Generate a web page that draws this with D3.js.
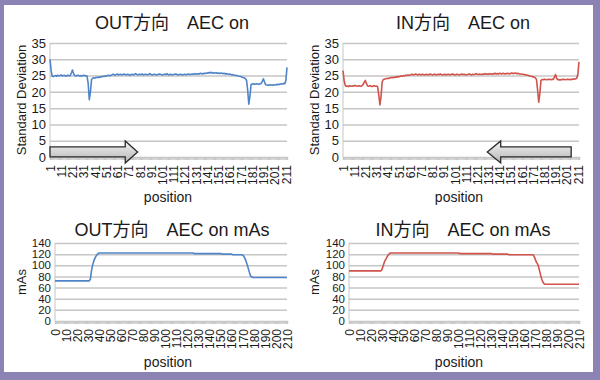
<!DOCTYPE html>
<html>
<head>
<meta charset="utf-8">
<script src="https://cdn.jsdelivr.net/npm/d3@7"></script>
<style>
  body { margin: 0; background: #fff; }
  svg text { font-family: "Liberation Sans", Arial, "Noto Sans CJK JP", sans-serif; fill: #1a1a1a; }
</style>
</head>
<body>
<svg id="chart" width="600" height="380"></svg>
<script>
// Standard deviation per position, OUT direction (positions 1..212)
const outSD = [30.0, 26.5, 24.8,
  24.7, 24.9, 25.0, 24.8, 25.1, 24.9, 25.0, 25.2, 24.9, 25.0, 25.1, 24.8, 25.0, 25.1, 24.9, 25.0,
  25.8, 26.7, 25.6,
  25.0, 24.9, 25.0, 25.1, 24.9, 25.0, 24.8, 25.0, 25.1, 24.9, 25.0, 24.8,
  22.5, 17.6, 20.0, 23.8, 24.2,
  24.3, 24.2, 24.4, 24.5, 24.4, 24.6, 24.5, 24.7, 24.8, 24.7, 24.9, 24.8, 25.0, 25.1, 24.9, 25.1,
  25.2, 25.4, 25.3, 25.1, 25.3, 25.5, 25.2, 25.3, 25.4, 25.2,
  25.3, 25.5, 25.3, 25.2, 25.4, 25.3, 25.1, 25.3, 25.4, 25.2,
  25.3, 25.6, 25.4, 25.2, 25.3, 25.4, 25.3, 25.5, 25.2, 25.3,
  25.4, 25.3, 25.2, 25.4, 25.6, 25.3, 25.2, 25.3, 25.4, 25.3,
  25.2, 25.3, 25.5, 25.4, 25.3, 25.2, 25.3, 25.4, 25.3, 25.6,
  25.3, 25.2, 25.4, 25.3, 25.2, 25.3, 25.4, 25.5, 25.3, 25.2,
  25.3, 25.4, 25.3, 25.2, 25.3, 25.4, 25.3, 25.3, 25.5, 25.4,
  25.3, 25.4, 25.5, 25.4, 25.6, 25.5, 25.4, 25.6, 25.5, 25.7,
  25.6, 25.5, 25.7, 25.6, 25.8,
  25.7, 25.9, 25.8, 26.0, 25.8, 25.9, 25.7, 25.8, 25.9, 25.7, 25.8, 25.6, 25.8, 25.7, 25.6, 25.7, 25.5, 25.6,
  25.5, 25.4, 25.5, 25.3, 25.2, 25.3, 25.1, 25.0, 25.1, 24.9, 24.8, 24.8,
  24.7, 24.5, 24.4, 24.3, 24.0, 23.5,
  20.5, 16.2, 18.5, 22.2,
  22.4, 22.5, 22.3, 22.4, 22.5, 22.4, 22.3, 22.5, 22.6,
  23.2, 24.0, 23.0,
  22.2, 22.1, 22.0, 22.1, 22.2, 22.1, 22.0, 22.2, 22.1, 22.2, 22.3, 22.2, 22.3,
  22.4, 22.5, 22.4, 22.6, 22.5,
  23.5, 27.5];

// Standard deviation per position, IN direction (positions 1..212)
const inSD = [26.5, 23.5, 22.0,
  21.7, 21.8, 21.6, 21.9, 21.8, 21.7, 21.9, 21.8, 22.0, 21.8, 21.7, 21.9, 21.8, 21.7, 21.9,
  22.3, 23.0, 23.5, 22.5,
  21.8, 21.7, 21.9, 21.8, 21.6, 21.8, 21.9, 21.7, 21.8,
  21.5, 19.0, 16.0, 18.5, 23.0, 23.8,
  23.9, 24.0, 24.1, 24.2, 24.1, 24.3, 24.4, 24.3, 24.5, 24.4, 24.6, 24.5, 24.7, 24.6, 24.8, 24.9,
  24.8, 25.0, 24.9, 25.1, 25.0, 25.2, 25.1,
  25.2, 25.3, 25.4, 25.2, 25.3, 25.5, 25.3, 25.2, 25.4, 25.3,
  25.2, 25.4, 25.3, 25.2, 25.3, 25.4, 25.2, 25.3, 25.5, 25.3,
  25.2, 25.3, 25.4, 25.3, 25.2, 25.4, 25.3, 25.5, 25.3, 25.2,
  25.3, 25.4, 25.2, 25.3, 25.4, 25.3, 25.2, 25.4, 25.5, 25.3,
  25.2, 25.3, 25.4, 25.3, 25.2, 25.3, 25.5, 25.3, 25.4, 25.3,
  25.2, 25.3, 25.4, 25.5, 25.3, 25.2, 25.4, 25.3, 25.4, 25.6,
  25.4, 25.3, 25.5, 25.4, 25.3, 25.5, 25.4, 25.6, 25.4, 25.5,
  25.4, 25.6, 25.5, 25.4, 25.6, 25.5, 25.7, 25.5, 25.6, 25.5,
  25.7, 25.6, 25.5, 25.7, 25.6, 25.5, 25.6, 25.7, 25.6, 25.5,
  25.7, 25.8, 25.6, 25.7, 25.8, 25.6, 25.7, 25.6,
  25.5, 25.5, 25.4, 25.4, 25.3, 25.2, 25.2, 25.1, 25.0, 24.9, 24.8, 24.7, 24.6, 24.5,
  24.3, 23.8, 20.5, 16.8, 19.5, 23.5,
  23.8, 23.7, 23.9, 23.8, 23.7, 23.8, 23.9, 23.8, 23.7, 23.9, 23.8,
  24.5, 25.3, 24.2,
  23.7, 23.8, 23.6, 23.8, 23.7, 23.9, 23.8, 23.7, 23.8, 23.9, 23.8, 23.7, 23.9, 23.8, 24.0, 23.9, 24.0,
  24.2, 25.5, 29.2];

// mAs per position, OUT direction (positions 0..210)
const outMAs = [72, 72, 72, 72, 72, 72, 72, 72, 72, 72, 72, 72, 72, 72, 72, 72,
  72, 72, 72, 72, 72, 72, 72, 72, 72, 72, 72, 72, 72, 72, 72, 72,
  75, 90, 100, 107, 112, 116, 119, 121,
  122, 122, 122, 122, 122, 122, 122, 122, 122, 122, 122, 122, 122, 122, 122, 122,
  122, 122, 122, 122, 122, 122, 122, 122, 122, 122, 122, 122, 122, 122, 122, 122,
  122, 122, 122, 122, 122, 122, 122, 122, 122, 122, 122, 122, 122, 122, 122, 122,
  122, 122, 122, 122, 122, 122, 122, 122, 122, 122, 122, 122, 122, 122, 122, 122,
  122, 122, 122, 122, 122, 122, 122, 122, 122, 122, 122, 122, 122, 122, 122, 122,
  122, 122, 122, 122, 122, 122,
  121, 121, 121, 121, 121, 121, 121, 121, 121, 121, 121, 121, 121,
  121, 121, 121, 121, 121, 121, 121, 121, 121, 121, 121, 121,
  120, 120, 120, 120, 120, 120, 120, 120, 120, 120,
  119, 119, 119, 119, 119, 119, 119, 119, 119,
  118, 116, 112, 107, 101, 94, 87, 81, 79,
  78, 78, 78, 78, 78, 78, 78, 78, 78, 78, 78, 78, 78, 78, 78, 78,
  78, 78, 78, 78, 78, 78, 78, 78, 78, 78, 78, 78, 78, 78, 78, 78];

// mAs per position, IN direction (positions 0..210)
const inMAs = [90, 90, 90, 90, 90, 90, 90, 90, 90, 90, 90, 90, 90, 90, 90,
  90, 90, 90, 90, 90, 90, 90, 90, 90, 90, 90, 90, 90, 90, 90,
  92, 98, 104, 109, 112, 116, 119, 121,
  122, 122, 122, 122, 122, 122, 122, 122, 122, 122, 122, 122, 122, 122, 122, 122,
  122, 122, 122, 122, 122, 122, 122, 122, 122, 122, 122, 122, 122, 122, 122, 122,
  122, 122, 122, 122, 122, 122, 122, 122, 122, 122, 122, 122, 122, 122, 122, 122,
  122, 122, 122, 122, 122, 122, 122, 122, 122, 122, 122, 122, 122, 122, 122,
  121, 121, 121, 121, 121, 121, 121, 121, 121, 121, 121, 121, 121, 121, 121,
  121, 121, 121, 121, 121, 121, 121, 121, 121, 121, 121, 121, 121, 121, 121,
  120, 120, 120, 120, 120, 120, 120, 120, 120, 120, 120, 120, 120, 120, 120,
  119, 119, 119, 119, 119, 119, 119, 119, 119, 119, 119, 119,
  119, 119, 119, 119, 119, 119, 119, 119, 119, 119, 119,
  116, 111, 106, 103, 98, 90, 82, 75, 70, 67,
  66, 66, 66, 66, 66, 66, 66, 66, 66, 66, 66, 66, 66, 66, 66, 66,
  66, 66, 66, 66, 66, 66, 66, 66, 66, 66, 66, 66, 66, 66, 66, 66];

// Category labels shown every 10 positions
const sdTickLabels = [1, 11, 21, 31, 41, 51, 61, 71, 81, 91, 101, 111, 121, 131, 141,
  151, 161, 171, 181, 191, 201, 211];
const masTickLabels = [0, 10, 20, 30, 40, 50, 60, 70, 80, 90, 100, 110, 120, 130, 140,
  150, 160, 170, 180, 190, 200, 210];
const sdYTicks = [0, 5, 10, 15, 20, 25, 30, 35];
const masYTicks = [0, 20, 40, 60, 80, 100, 120, 140];

const svg = d3.select("#chart");

// Purple frame with white panel
svg.append("rect").attr("width", 600).attr("height", 380).attr("fill", "#8b83b4");
svg.append("rect").attr("x", 4).attr("y", 5).attr("width", 589).attr("height", 367).attr("fill", "#fff");

const defs = svg.append("defs");
const grad = defs.append("linearGradient").attr("id", "arrowGrad")
  .attr("x1", 0).attr("y1", 0).attr("x2", 0).attr("y2", 1);
grad.append("stop").attr("offset", "0%").attr("stop-color", "#f4f4f4");
grad.append("stop").attr("offset", "100%").attr("stop-color", "#b4b4b4");

function drawChart(cfg) {
  const cats = cfg.values.map((d, i) => i + cfg.firstCat);
  const x = d3.scalePoint().domain(cats).range([cfg.left, cfg.right]);
  const y = d3.scaleLinear().domain([0, cfg.yMax]).range([cfg.bottom, cfg.top]);
  const g = svg.append("g");

  // Horizontal gridlines
  g.append("g")
    .attr("transform", `translate(${cfg.left},0)`)
    .call(d3.axisLeft(y).tickValues(cfg.yTicks.filter((t) => t > 0))
      .tickSize(-(cfg.right - cfg.left)).tickFormat(""))
    .call((a) => a.select(".domain").remove())
    .selectAll("line").attr("stroke", "#c6c6c6").attr("stroke-width", 1.5);

  // Y tick labels
  g.append("g")
    .attr("transform", `translate(${cfg.left - 4},0)`)
    .call(d3.axisLeft(y).tickValues(cfg.yTicks).tickSize(0).tickPadding(0))
    .call((a) => a.select(".domain").remove())
    .selectAll("text").style("font-size", cfg.yFont).style("fill", "#1a1a1a");

  // Vertical axis line
  g.append("line")
    .attr("x1", cfg.left).attr("x2", cfg.left)
    .attr("y1", y(cfg.yMax)).attr("y2", y(0))
    .attr("stroke", "#c6c6c6").attr("stroke-width", 1);

  // X axis with a tick for every category
  g.append("g")
    .attr("transform", `translate(0,${cfg.bottom})`)
    .call(d3.axisBottom(x).tickSize(3).tickFormat(""))
    .call((a) => a.select(".domain").attr("stroke", "#c6c6c6").attr("stroke-width", 1.5))
    .selectAll("line").attr("stroke", "#c6c6c6");

  // X tick labels, rotated
  g.append("g")
    .attr("transform", `translate(0,${cfg.bottom + 8})`)
    .call(d3.axisBottom(x).tickValues(cfg.tickLabels).tickSize(0).tickPadding(0))
    .call((a) => a.select(".domain").remove())
    .selectAll("text")
    .style("font-size", "12px").style("fill", "#1a1a1a")
    .attr("text-anchor", "end")
    .attr("dy", "0.35em")
    .attr("transform", "rotate(-90)")
    .attr("x", 0).attr("y", 0);

  // Data line
  g.append("path")
    .datum(cfg.values)
    .attr("fill", "none")
    .attr("stroke", cfg.color)
    .attr("stroke-width", 1.6)
    .attr("stroke-linejoin", "round")
    .attr("d", d3.line().x((d, i) => x(cats[i])).y((d) => y(d)));

  // Title
  g.append("text")
    .attr("x", cfg.titleX).attr("y", cfg.titleY)
    .attr("text-anchor", "middle")
    .style("font-size", "18px")
    .text(cfg.title);

  // Axis titles
  g.append("text")
    .attr("transform", `translate(${cfg.yLabelX},${(cfg.top + cfg.bottom) / 2}) rotate(-90)`)
    .attr("text-anchor", "middle")
    .style("font-size", "13px")
    .text(cfg.yLabel);

  g.append("text")
    .attr("x", cfg.titleX - 4).attr("y", cfg.xLabelY)
    .attr("text-anchor", "middle")
    .style("font-size", "14px")
    .text("position");

  // Direction arrow (block arrow annotation)
  if (cfg.arrow) {
    const a = cfg.arrow;
    const x0 = x(a.from), x1 = x(a.to), xh = x(a.head);
    const yc = y(a.mid), bh = a.body / 2, hh = a.headH / 2;
    const pts = [[x0, yc - bh], [xh, yc - bh], [xh, yc - hh], [x1, yc],
      [xh, yc + hh], [xh, yc + bh], [x0, yc + bh]];
    g.append("path")
      .attr("d", d3.line()(pts) + "Z")
      .attr("fill", "url(#arrowGrad)")
      .attr("stroke", "#2a2a2a")
      .attr("stroke-width", 1.3)
      .attr("stroke-linejoin", "miter");
  }
}

drawChart({
  values: outSD, firstCat: 1, tickLabels: sdTickLabels, yTicks: sdYTicks, yMax: 35,
  left: 50, right: 287, top: 43, bottom: 157, yFont: "13px",
  color: "#4f84c8", title: "OUT方向　AEC on", titleX: 172, titleY: 29,
  yLabel: "Standard Deviation", yLabelX: 26, xLabelY: 202,
  arrow: { from: 1, head: 68, to: 79, mid: 1.55, body: 10, headH: 22 }
});

drawChart({
  values: inSD, firstCat: 1, tickLabels: sdTickLabels, yTicks: sdYTicks, yMax: 35,
  left: 343, right: 579, top: 43, bottom: 157, yFont: "13px",
  color: "#d0534c", title: "IN方向　AEC on", titleX: 463, titleY: 29,
  yLabel: "Standard Deviation", yLabelX: 319, xLabelY: 202,
  arrow: { from: 205, head: 142, to: 130, mid: 1.55, body: 10, headH: 22 }
});

drawChart({
  values: outMAs, firstCat: 0, tickLabels: masTickLabels, yTicks: masYTicks, yMax: 140,
  left: 55, right: 287, top: 243, bottom: 321, yFont: "11.5px",
  color: "#4f84c8", title: "OUT方向　AEC on mAs", titleX: 172, titleY: 236,
  yLabel: "mAs", yLabelX: 26, xLabelY: 367
});

drawChart({
  values: inMAs, firstCat: 0, tickLabels: masTickLabels, yTicks: masYTicks, yMax: 140,
  left: 349, right: 579, top: 243, bottom: 321, yFont: "11.5px",
  color: "#d0534c", title: "IN方向　AEC on mAs", titleX: 463, titleY: 236,
  yLabel: "mAs", yLabelX: 319, xLabelY: 367
});
</script>
</body>
</html>
